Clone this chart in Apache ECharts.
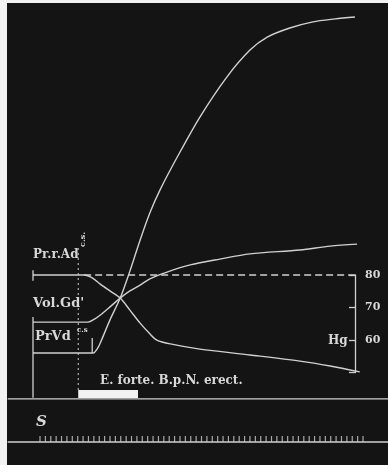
<!DOCTYPE html>
<html>
<head>
<meta charset="utf-8">
<script src="https://cdn.jsdelivr.net/npm/echarts@6/dist/echarts.min.js"></script>
<style>
html, body { margin: 0; padding: 0; background: #141414; }
#chart { width: 388px; height: 465px; }
</style>
</head>
<body>
<div id="chart"></div>
<script>
// time in seconds (timer S), ordinate calibrated in mm Hg (scale at right)
const prAd = [[-1.3, 80], [8.2, 80], [9.7, 79.1], [11.2, 77.2], [13.0, 75.1], [14.9, 72.9], [16.7, 69.2],
  [18.6, 65.2], [20.4, 61.9], [21.7, 60.0], [24.2, 58.8], [29.7, 57.2], [39.0, 55.4], [48.3, 53.5],
  [53.9, 52.0], [59.4, 50.2]];
const volGd = [[-1.3, 65.5], [8.9, 65.5], [10.2, 66.5], [11.2, 67.7], [13.0, 70.2], [14.9, 72.9], [16.7, 75.1],
  [18.6, 76.9], [20.4, 78.8], [23.6, 80.9], [27.9, 83.1], [33.4, 84.9], [39.0, 86.5], [48.3, 87.7],
  [53.9, 88.9], [58.9, 89.5]];
const prVd = [[-1.3, 56.0], [9.9, 56.0], [10.6, 57.2], [11.2, 59.1], [13.0, 66.2], [14.9, 72.9], [16.7, 81.2],
  [18.6, 90.8], [20.4, 99.1], [22.3, 106.2], [25.5, 116.3], [29.7, 128.6], [34.7, 140.9], [39.0, 149.2],
  [42.2, 153.2], [46.4, 156.0], [50.7, 157.9], [54.8, 158.8], [58.5, 159.4]];
const baseline80 = [[8.2, 80], [58.5, 80]];
const marker = [[7.1, 88.3], [7.1, 44.0]];
const stimulus = [[7.1, 43.4], [18.2, 43.4]];
const signalLine = [[-6.0, 41.9], [64.7, 41.9]];
const timerLine = [[-6.0, 28.6], [64.7, 28.6]];
const seconds = [0, 1, 2, 3, 4, 5, 6, 7, 8, 9, 10, 11, 12, 13, 14, 15, 16, 17, 18, 19, 20, 21, 22, 23, 24, 25,
  26, 27, 28, 29, 30, 31, 32, 33, 34, 35, 36, 37, 38, 39, 40, 41, 42, 43, 44, 45, 46, 47, 48, 49, 50, 51,
  52, 53, 54, 55, 56, 57, 58, 59, 60];
const brackets = [
  [[-1.3, 81.5], [-1.3, 78.2]],
  [[-1.3, 67.1], [-1.3, 42.2]],
  [[9.7, 60.6], [9.7, 56.0]]
];
const hgTicks = [50, 80];

const ink = '#d0d0d0';
const paper = '#f2f2f2';
const serif = '"DejaVu Serif", "Liberation Serif", serif';

const chart = echarts.init(document.getElementById('chart'));

const lineSeries = (data, extra) => Object.assign({
  type: 'line', data, xAxisIndex: 0, yAxisIndex: 0, symbol: 'none', silent: true,
  lineStyle: { color: ink, width: 1.4 }
}, extra || {});

const series = [
  lineSeries(prAd, { smooth: 0.3 }),
  lineSeries(volGd, { smooth: 0.3 }),
  lineSeries(prVd, { smooth: 0.3 }),
  lineSeries(baseline80, { lineStyle: { color: ink, width: 1.3, type: [7, 4] } }),
  lineSeries(marker, { lineStyle: { color: ink, width: 1, type: [2, 3] } }),
  lineSeries(signalLine, { lineStyle: { color: ink, width: 1.4 } }),
  lineSeries(timerLine, { lineStyle: { color: ink, width: 1.4 } }),
  lineSeries(stimulus, { lineStyle: { color: paper, width: 8, cap: 'butt' } }),
  {
    type: 'scatter', silent: true, xAxisIndex: 0, yAxisIndex: 0,
    data: seconds.map(s => [s, timerLine[0][1]]),
    symbol: 'rect', symbolSize: [1.2, 6], symbolOffset: [0, -3],
    itemStyle: { color: ink }
  }
];
brackets.forEach(b => series.push(lineSeries(b, { lineStyle: { color: ink, width: 1.3 } })));

const label = (text, x, y, size, extra) => Object.assign({
  type: 'text', left: x, top: y, z: 50,
  style: { text, fill: '#d8d8d8', font: 'bold ' + size + 'px ' + serif }
}, extra || {});

chart.setOption({
  backgroundColor: '#141414',
  animation: false,
  grid: [
    { left: 0, right: 0, top: 0, bottom: 0 },
    { left: 355, width: 6, top: 275, height: 97.5 }
  ],
  xAxis: [
    { type: 'value', min: -7.43, max: 64.64, show: false, gridIndex: 0 },
    { type: 'value', min: 0, max: 1, show: false, gridIndex: 1 }
  ],
  yAxis: [
    { type: 'value', min: 21.54, max: 164.62, show: false, gridIndex: 0 },
    {
      type: 'value', gridIndex: 1, position: 'right', min: hgTicks[0], max: hgTicks[1], interval: 10,
      axisLine: { show: true, lineStyle: { color: ink, width: 1.3 } },
      axisTick: { show: true, inside: true, length: 6, lineStyle: { color: ink, width: 1.3 } },
      splitLine: { show: false },
      axisLabel: {
        margin: 4, color: '#d8d8d8', fontFamily: serif, fontWeight: 'bold', fontSize: 11,
        formatter: v => (v === hgTicks[0] ? '' : String(v))
      }
    }
  ],
  series,
  graphic: [
    { type: 'rect', shape: { x: 0, y: 0, width: 7, height: 465 }, style: { fill: paper }, z: 100 },
    { type: 'rect', shape: { x: 0, y: 0, width: 388, height: 3 }, style: { fill: paper }, z: 100 },
    label('Pr.r.Ad', 33, 249, 12),
    label('c.s.', 79, 232, 8, { rotation: Math.PI / 2 }),
    label("Vol.Gd'", 33, 297, 13),
    label('PrVd', 35, 330, 13),
    label('c.s', 77, 327, 7),
    label('Hg', 328, 335, 12),
    label('E. forte. B.p.N. erect.', 100, 375, 12),
    label('S', 36, 415, 15, { style: { text: 'S', fill: '#d8d8d8', font: 'italic bold 15px ' + serif } })
  ]
});
</script>
</body>
</html>
